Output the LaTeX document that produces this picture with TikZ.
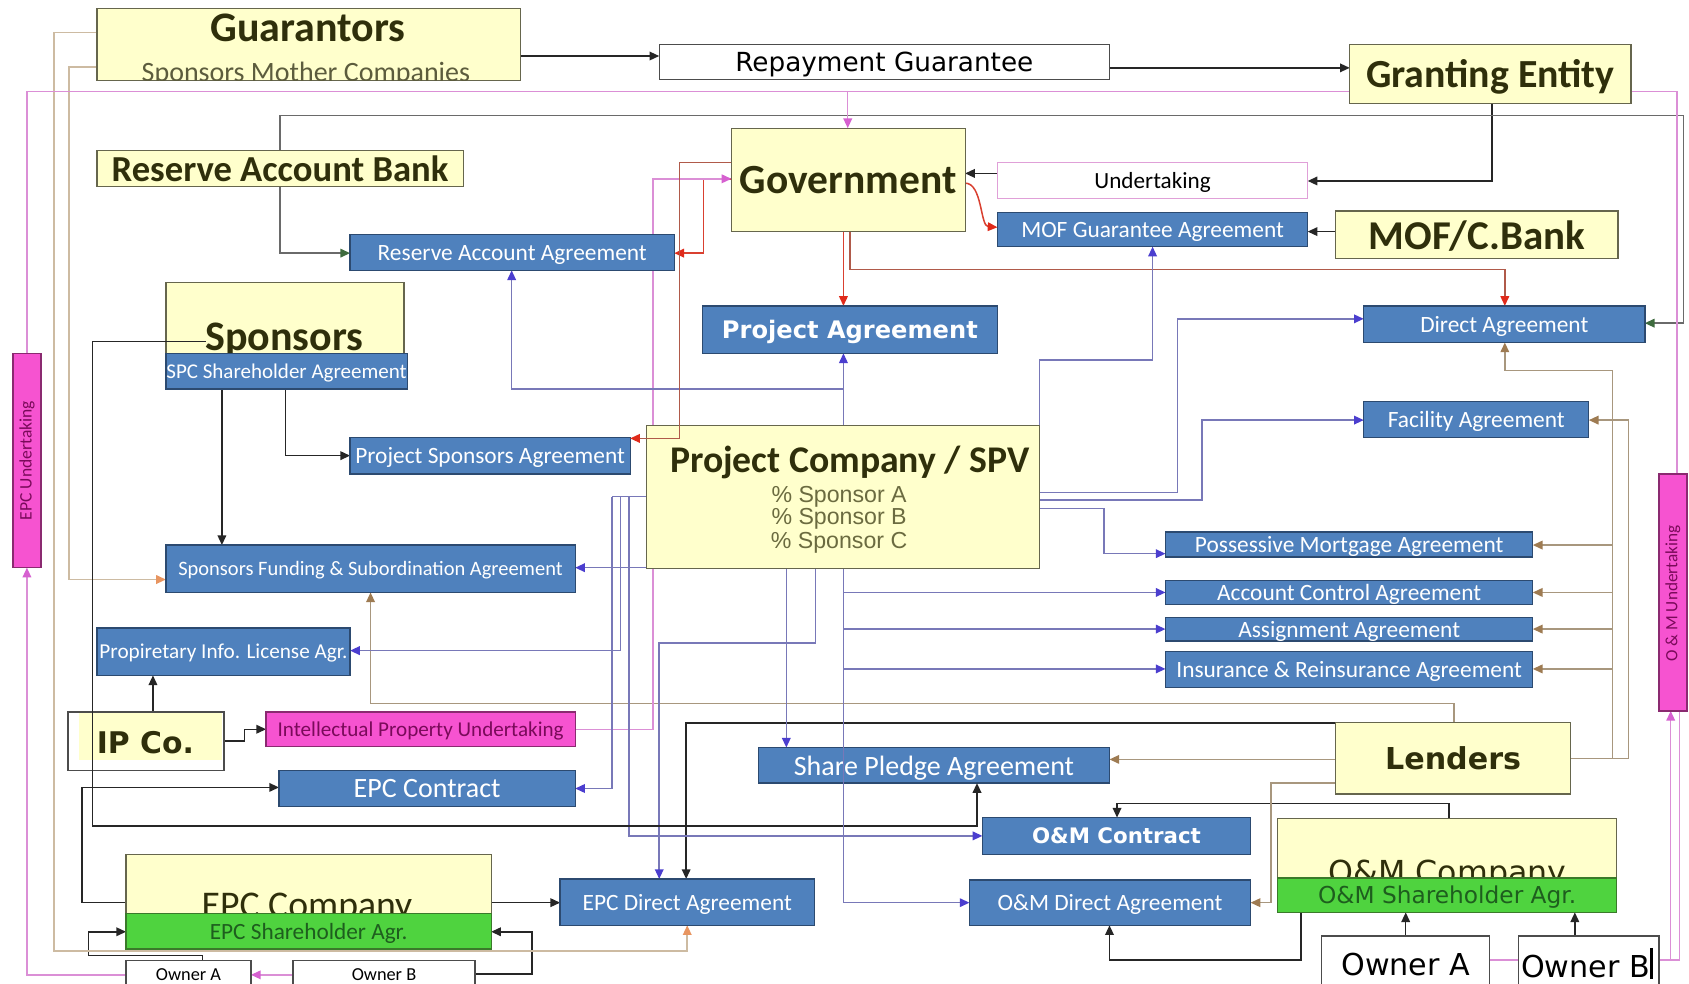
\documentclass[tikz,border=0pt]{standalone}
\usepackage{fontspec}
\setmainfont{Carlito}
\newfontfamily\verd{DejaVu Sans}
\newfontfamily\arl{Liberation Sans}
\usetikzlibrary{arrows.meta}
\pgfdeclarelayer{bg}
\pgfsetlayers{bg,main}
\newcommand{\myfs}[1]{\fontsize{#1}{#1}\selectfont}
\definecolor{yel}{HTML}{FFFFCC}
\definecolor{ybord}{HTML}{66664D}
\definecolor{blu}{HTML}{4F81BD}
\definecolor{bbord}{HTML}{2C4A70}
\definecolor{mag}{HTML}{F653D0}
\definecolor{mbord}{HTML}{8A2A70}
\definecolor{grn}{HTML}{4FD33F}
\definecolor{gbord}{HTML}{3A7A2A}
\definecolor{ttl}{HTML}{2F2F0B}
\definecolor{smc}{HTML}{5C5C3D}
\definecolor{spt}{HTML}{6B6B40}
\definecolor{ipt}{HTML}{7A0A5A}
\definecolor{gtxt}{HTML}{1E5E1E}
\definecolor{undb}{HTML}{E0A0D8}
\definecolor{lblk}{HTML}{262626}
\definecolor{lgry}{HTML}{6A6A6A}
\definecolor{agrn}{HTML}{3E6B3E}
\definecolor{ltan}{HTML}{CDBBA2}
\definecolor{aorg}{HTML}{E89560}
\definecolor{lbrn}{HTML}{A8977E}
\definecolor{abrn}{HTML}{9E7B52}
\definecolor{lred}{HTML}{D94030}
\definecolor{lredb}{HTML}{B05A4A}
\definecolor{ared}{HTML}{E02A1A}
\definecolor{lpnk}{HTML}{DB8FD6}
\definecolor{apnk}{HTML}{D660D0}
\definecolor{lblu}{HTML}{7878B8}
\definecolor{ablu}{HTML}{4B3ECF}
\tikzset{
  sz/.style 2 args={minimum width=#1pt, minimum height=#2pt},
  basebox/.style={line width=1.2pt, inner sep=0pt, outer sep=0pt, text depth=0pt},
  ybox/.style={basebox, draw=ybord, fill=yel, text=ttl},
  bbox/.style={basebox, draw=bbord, fill=blu, text=white, font=\myfs{21.7}},
  wbox/.style={basebox, draw=gray!60!black, fill=white, text=black},
  mbox/.style={basebox, draw=mbord, fill=mag},
  gbox/.style={basebox, draw=gbord, fill=grn},
  con/.style={line width=1.4pt},
  tipA/.style={-{Triangle[length=9pt,width=8pt,color=#1]}},
  cblk/.style={con, draw=lblk, tipA=lblk},
  cblkn/.style={con, draw=lblk},
  cgry/.style={con, draw=lgry, tipA=agrn},
  ctan/.style={con, draw=ltan, tipA=aorg},
  cbrn/.style={con, draw=lbrn, tipA=abrn},
  cred/.style={con, draw=lred, tipA=ared},
  credb/.style={con, draw=lredb, tipA=ared},
  cpnk/.style={con, draw=lpnk},
  cpnka/.style={con, draw=lpnk, tipA=apnk},
  cblu/.style={con, draw=lblu, tipA=ablu},
  cblun/.style={con, draw=lblu},
}
\begin{document}
\begin{tikzpicture}[x=1pt,y=-1pt]
\useasboundingbox (0,0) rectangle (1568,913);

% ---------- nodes ----------
\node[ybox,sz={393}{67}] (guar) at (286.5,41.5) {};
\begin{scope}
\clip (90,8) rectangle (483,75);
\node[text=ttl,font=\bfseries\myfs{39}] (guarT) at (286,26) {Guarantors};
\node[text=smc,font=\myfs{26},anchor=base] (guarS) at (284,76) {Sponsors Mother Companies};
\end{scope}
\node[wbox,sz={418}{33},font=\verd\myfs{24.4}] (rg) at (821,57.5) {Repayment Guarantee};
\node[ybox,sz={261}{55},font=\bfseries\myfs{37}] (ge) at (1383.5,68.5) {Granting Entity};
\node[ybox,sz={217}{96},font=\bfseries\myfs{38.5}] (gov) at (787.5,167) {Government};
\node[wbox,draw=undb,sz={288}{33},font=\myfs{21.5}] (und) at (1070,167.5) {Undertaking};
\node[bbox,sz={288}{32}] (mof) at (1070,213) {MOF Guarantee Agreement};
\node[ybox,sz={262}{44},font=\bfseries\myfs{38}] (mofb) at (1371,218) {MOF/C.Bank};
\node[ybox,sz={340}{33},font=\bfseries\myfs{34}] (rab) at (260,156.5) {Reserve Account Bank};
\node[bbox,sz={301}{33}] (raa) at (475.5,234.5) {Reserve Account Agreement};
\node[bbox,sz={274}{44},font=\verd\bfseries\myfs{22.4}] (pa) at (789,306) {Project Agreement};
\node[bbox,sz={261}{34}] (da) at (1396.5,301) {Direct Agreement};
\node[ybox,sz={221}{72}] (spon) at (264.5,298) {};
\node[text=ttl,font=\bfseries\myfs{39},anchor=base] (sponT) at (264,325) {Sponsors};
\node[bbox,sz={224}{33},font=\myfs{19.5}] (spc) at (266,344.5) {SPC Shareholder Agreement};
\node[bbox,sz={260}{34}] (psa) at (455,423) {Project Sponsors Agreement};
\node[ybox,sz={365}{133}] (spv) at (782.5,461.5) {};
\node[text=ttl,font=\bfseries\myfs{35}] (spvT) at (789,429) {Project Company / SPV};
\node[text=spt,font=\arl\myfs{21.5}] (spA) at (779,461) {\% Sponsor A};
\node[text=spt,font=\arl\myfs{21.5}] (spB) at (779,482) {\% Sponsor B};
\node[text=spt,font=\arl\myfs{21.5}] (spC) at (779,504) {\% Sponsor C};
\node[bbox,sz={209}{33}] (fa) at (1370.5,389.5) {Facility Agreement};
\node[bbox,sz={380}{44},font=\myfs{19}] (sfa) at (344,528) {Sponsors Funding \& Subordination Agreement};
\node[bbox,sz={341}{23}] (pma) at (1252.5,505.5) {Possessive Mortgage Agreement};
\node[bbox,sz={341}{22}] (aca) at (1252.5,550) {Account Control Agreement};
\node[bbox,sz={341}{22}] (asa) at (1252.5,584) {Assignment Agreement};
\node[bbox,sz={341}{33}] (ira) at (1252.5,621.5) {Insurance \& Reinsurance Agreement};
\node[bbox,sz={235}{44},font=\myfs{19.7}] (pila) at (207.5,605) {Propiretary Info. License Agr.};
\node[wbox,sz={145}{54}] (ipco) at (135.5,688) {};
\fill[yel] (73,662) rectangle (206,706);
\node[text=ttl,font=\verd\bfseries\myfs{27.7},text depth=0pt] (ipcoT) at (135,689) {IP Co.};
\node[mbox,sz={287}{32},font=\myfs{19.6},text=ipt] (ipu) at (390.5,677) {Intellectual Property Undertaking};
\node[bbox,sz={275}{34},font=\myfs{26}] (epcc) at (396.5,732) {EPC Contract};
\node[bbox,sz={326}{33},font=\myfs{26}] (spa) at (867,710.5) {Share Pledge Agreement};
\node[ybox,sz={218}{66},font=\verd\bfseries\myfs{28}] (len) at (1349,704) {Lenders};
\node[bbox,sz={249}{34},font=\verd\bfseries\myfs{19.8}] (omc) at (1036.5,776) {O\&M Contract};
\node[ybox,sz={315}{87}] (omco) at (1343.5,803.5) {};
\begin{scope}
\clip (1186,760) rectangle (1501,815);
\node[text=ttl,font=\verd\myfs{29.4},anchor=base] (omcoT) at (1344,820) {O\&M Company};
\end{scope}
\node[gbox,sz={315}{32},font=\verd\myfs{21.6},text=gtxt] (omsh) at (1343.5,831) {O\&M Shareholder Agr.};
\node[bbox,sz={261}{42}] (omda) at (1030.5,838) {O\&M Direct Agreement};
\node[ybox,sz={339}{88}] (epco) at (286.5,837) {};
\begin{scope}
\clip (117,793) rectangle (456,848);
\node[text=ttl,font=\myfs{35},anchor=base] (epcoT) at (285,852) {EPC Company};
\end{scope}
\node[gbox,sz={339}{33},font=\myfs{21.6},text=gtxt] (epcsh) at (286.5,864.5) {EPC Shareholder Agr.};
\node[bbox,sz={236}{43}] (epcda) at (638,837.5) {EPC Direct Agreement};
\node[wbox,sz={116}{26},font=\myfs{17}] (oa1) at (175,905) {Owner A};
\node[wbox,sz={169}{26},font=\myfs{17}] (ob1) at (356.5,905) {Owner B};
\node[wbox,sz={156}{52},font=\verd\myfs{28}] (oa2) at (1305,895) {Owner A};
\node[wbox,sz={130}{52}] (ob2) at (1475,895) {};
\node[font=\verd\myfs{28},anchor=west,inner sep=0pt,text depth=0pt] (ob2T) at (1412,897) {Owner B};
\draw[line width=3pt] (1533,880) -- (1533,909);
\node[mbox,sz={26}{199}] (epcu) at (25,427.5) {};
\node[rotate=90,font=\myfs{16.3},text=ipt] (epcuT) at (25,427.5) {EPC Undertaking};
\node[mbox,sz={26}{220}] (omu) at (1553,550) {};
\node[rotate=90,font=\myfs{16},text=ipt] (omuT) at (1553,551) {O \& M Undertaking};

% ---------- free-end coordinates ----------
\coordinate (sponsrc) at (191,317);
\coordinate (gpink) at (787,85);
\coordinate (lj) at (1497,704);
\coordinate (spvj) at (783,361);

% ---------- connectors drawn over boxes ----------
\draw[cblk] (sponsrc) -- (86,317) -- (86,767) -- (907,767) -- (spa.south -| 907,0);
\draw[credb] (gov.west |- 0,151) -- (631,151) -- (631,407) -- (psa.east |- 0,407);
\draw[cblu] (spv.south -| 783,0) -- (783,838) -- (omda.west |- 0,838);

\begin{pgfonlayer}{bg}
\fill[white] (0,0) rectangle (1568,913);
% black
\draw[cblk] (guar.east |- 0,52) -- (rg.west |- 0,52);
\draw[cblk] (rg.east |- 0,63) -- (ge.west |- 0,63);
\draw[cblk] (ge.south -| 1385,0) -- (1385,168) -- (und.east |- 0,168);
\draw[cblk] (und.west |- 0,161) -- (gov.east |- 0,161);
\draw[cblk] (mofb.west |- 0,215) -- (mof.east |- 0,215);
\draw[cblk] (spc.south -| 206,0) -- (sfa.north -| 206,0);
\draw[cblk] (spc.south -| 265,0) -- (265,423) -- (psa.west);
\draw[cblk] (epco.west |- 0,838) -- (76,838) -- (76,731) -- (epcc.west |- 0,731);
\draw[cblk] (epco.east |- 0,838) -- (epcda.west |- 0,838);
\draw[cblk] (oa1.north -| 188,0) -- (188,887) -- (82,887) -- (82,865) -- (epcsh.west |- 0,865);
\draw[cblk] (ob1.east |- 0,904) -- (494,904) -- (494,865) -- (epcsh.east |- 0,865);
\draw[cblk] (ipco.north -| 142,0) -- (pila.south -| 142,0);
\draw[cblk] (ipco.east) -- (227,688) -- (227,677) -- (ipu.west);
\draw[cblk] (len.north west) -- (637,671) -- (epcda.north -| 637,0);
\draw[cblk] (omco.north -| 1345,0) -- (1345,746) -- (1037,746) -- (omc.north -| 1037,0);
\draw[cblk] (omsh.south -| 1208,0) -- (1208,891) -- (1030,891) -- (omda.south -| 1030,0);
\draw[cblk] (oa2.north -| 1305,0) -- (omsh.south -| 1305,0);
\draw[cblk] (ob2.north -| 1462,0) -- (omsh.south -| 1462,0);
% gray
\draw[cgry] (rab.north -| 260,0) -- (260,107) -- (1563,107) -- (1563,300) -- (da.east |- 0,300);
\draw[cgry] (rab.south -| 260,0) -- (260,235) -- (raa.west |- 0,235);
% tan
\draw[ctan] (guar.west |- 0,30) -- (50,30) -- (50,883) -- (638,883) -- (epcda.south);
\draw[ctan] (guar.west |- 0,62) -- (64,62) -- (64,538) -- (sfa.west |- 0,538);
% brown
\draw[cbrn] (len.east) -- (1512,704) -- (1512,390) -- (fa.east |- 0,390);
\draw[cbrn] (lj) -- (1497,344) -- (1397,344) -- (da.south -| 1397,0);
\draw[cbrn] (1497,506) -- (pma.east |- 0,506);
\draw[cbrn] (1497,550) -- (aca.east |- 0,550);
\draw[cbrn] (1497,584) -- (asa.east |- 0,584);
\draw[cbrn] (1497,621) -- (ira.east |- 0,621);
\draw[cbrn] (len.west |- 0,705) -- (spa.east |- 0,705);
\draw[cbrn] (len.north -| 1350,0) -- (1350,653) -- (344,653) -- (sfa.south -| 344,0);
\draw[cbrn] (len.west |- 0,727) -- (1180,727) -- (1180,838) -- (omda.east |- 0,838);
% red
\draw[cred] (gov.south -| 783,0) -- (pa.north -| 783,0);
\draw[credb] (gov.south -| 789,0) -- (789,250) -- (1397,250) -- (da.north -| 1397,0);
\draw[cred] (gov.east |- 0,170) .. controls (912,170) and (910,210) .. (mof.west |- 0,211);
\draw[cred] (gov.west |- 0,166) -- (653,166) -- (653,235) -- (raa.east |- 0,235);
% pink
\draw[cpnk] (ge.west |- 0,85) -- (25,85) -- (epcu.north);
\draw[cpnk] (ge.east |- 0,85) -- (1557,85) -- (omu.north -| 1557,0);
\draw[cpnka] (gpink) -- (gov.north -| 787,0);
\draw[cpnka] (oa1.west |- 0,905) -- (25,905) -- (epcu.south);
\draw[cpnka] (ob1.west |- 0,905) -- (oa1.east |- 0,905);
\draw[cpnka] (oa2.east |- 0,891) -- (1551,891) -- (omu.south -| 1551,0);
\draw[cpnk] (ob2.east |- 0,891) -- (1559,891) -- (omu.south -| 1559,0);
\draw[cpnka] (ipu.east) -- (606,677) -- (606,166) -- (gov.west |- 0,166);
% blue
\draw[cblu] (spv.north -| 783,0) -- (pa.south -| 783,0);
\draw[cblu] (spvj) -- (475,361) -- (raa.south -| 475,0);
\draw[cblu] (spv.north east) -- (965,334) -- (1070,334) -- (mof.south -| 1070,0);
\draw[cblu] (spv.east |- 0,457) -- (1093,457) -- (1093,296) -- (da.west |- 0,296);
\draw[cblu] (spv.east |- 0,464) -- (1116,464) -- (1116,390) -- (fa.west |- 0,390);
\draw[cblu] (spv.east |- 0,472) -- (1025,472) -- (1025,514) -- (pma.west |- 0,514);
\draw[cblu] (783,550) -- (aca.west |- 0,550);
\draw[cblu] (783,584) -- (asa.west |- 0,584);
\draw[cblu] (783,621) -- (ira.west |- 0,621);
\draw[cblu] (spv.south -| 730,0) -- (spa.north -| 730,0);
\draw[cblu] (spv.south -| 757,0) -- (757,597) -- (612,597) -- (epcda.north -| 612,0);
\draw[cblun] (spv.west |- 0,461) -- (568,461);
\draw[cblu] (568,461) -- (568,732) -- (epcc.east |- 0,732);
\draw[cblu] (576,461) -- (576,604) -- (pila.east |- 0,604);
\draw[cblu] (584,461) -- (584,776) -- (omc.west |- 0,776);
\draw[cblu] (spv.west |- 0,527) -- (sfa.east |- 0,527);
\end{pgfonlayer}
\end{tikzpicture}
\end{document}
